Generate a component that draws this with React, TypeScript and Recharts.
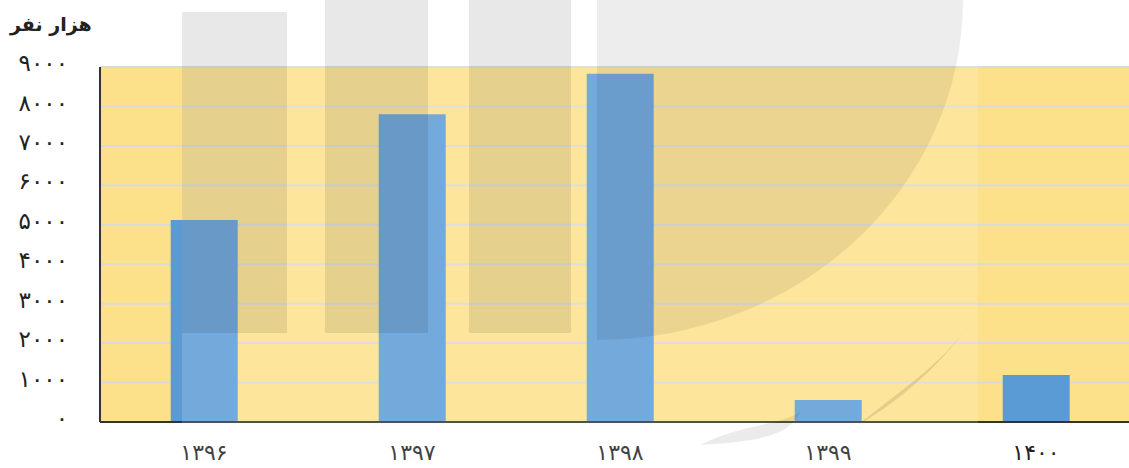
import React from "react";
import { BarChart, Bar, XAxis, YAxis, CartesianGrid } from "recharts";

const years = ["۱۳۹۶", "۱۳۹۷", "۱۳۹۸", "۱۳۹۹", "۱۴۰۰"];
const population = [5120, 7800, 8830, 560, 1190];
const yTicks = [0, 1000, 2000, 3000, 4000, 5000, 6000, 7000, 8000, 9000];
const unitLabel = "هزار نفر";

const data = years.map((y, i) => ({ year: y, value: population[i] }));

const faDigits = "۰۱۲۳۴۵۶۷۸۹";
const toFa = (n: number) => String(n).replace(/\d/g, (d) => faDigits[Number(d)]);

const FONT = "'DejaVu Sans', sans-serif";

export default function App() {
  return (
    <div style={{ position: "absolute", left: 0, top: 0, width: 1129, height: 468, overflow: "hidden", background: "#fff" }}>
      <BarChart
        width={1140}
        height={468}
        data={data}
        margin={{ top: 67, right: 0, bottom: 0, left: 0 }}
        barCategoryGap="34%"
      >
        <CartesianGrid
          horizontal={true}
          vertical={false}
          fill="#FDE18A"
          fillOpacity={1}
          stroke="#D9D9D9"
          strokeWidth={2}
        />
        <XAxis
          dataKey="year"
          height={46}
          axisLine={{ stroke: "#333", strokeWidth: 2 }}
          tickLine={false}
          tickSize={0}
          tickMargin={22}
          tick={{ fill: "#222", fontSize: 22, fontFamily: FONT }}
        />
        <YAxis
          width={100}
          domain={[0, 9000]}
          ticks={yTicks}
          interval={0}
          tickFormatter={toFa}
          axisLine={{ stroke: "#333", strokeWidth: 2 }}
          tickLine={false}
          tickSize={0}
          tickMargin={32}
          tick={{ fill: "#222", fontSize: 23, fontFamily: FONT, dy: -4 }}
        />
        <Bar dataKey="value" fill="#5B9BD5" isAnimationActive={false} />
      </BarChart>
      <svg width={1129} height={468} style={{ position: "absolute", left: 0, top: 0, pointerEvents: "none" }}>
        <rect x={182} y={0} width={796} height={468} fill="#fff" fillOpacity={0.15} />
        <rect x={182} y={12} width={105} height={321} fill="#000" fillOpacity={0.09} />
        <rect x={325} y={0} width={103} height={333} fill="#000" fillOpacity={0.09} />
        <rect x={469} y={0} width={102} height={333} fill="#000" fillOpacity={0.09} />
        <path d="M597,0 L963,0 A366,340 0 0 1 597,340 Z" fill="#000" fillOpacity={0.07} />
        <path d="M700,445 C740,425 780,425 800,412 C790,435 760,442 700,445 Z" fill="#000" fillOpacity={0.08} />
        <path d="M858,425 C900,390 950,360 977,312 C955,350 910,395 858,425 Z" fill="#000" fillOpacity={0.1} />
      </svg>
      <div
        style={{
          position: "absolute",
          left: 10,
          top: 13,
          fontFamily: FONT,
          fontWeight: "bold",
          fontSize: 19,
          color: "#222",
          direction: "rtl",
        }}
      >
        {unitLabel}
      </div>
    </div>
  );
}
